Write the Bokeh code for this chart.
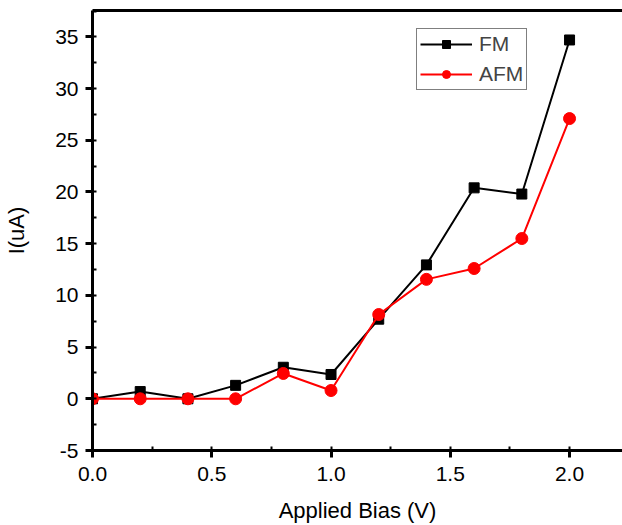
from bokeh.plotting import figure
from bokeh.models import (Range1d, SingleIntervalTicker, NumeralTickFormatter,
                          LinearAxis, Legend, LegendItem, FixedTicker)
from bokeh.embed import file_html
from bokeh.resources import INLINE

bias = [0.0, 0.2, 0.4, 0.6, 0.8, 1.0, 1.2, 1.4, 1.6, 1.8, 2.0]
fm = [0.0, 0.7, 0.0, 1.3, 3.05, 2.35, 7.7, 12.95, 20.4, 19.8, 34.7]
afm = [0.0, 0.0, 0.0, 0.0, 2.45, 0.8, 8.15, 11.55, 12.6, 15.5, 27.1]

FONT = "Liberation Sans"

p = figure(width=622, height=525, output_backend="svg", toolbar_location=None,
           x_range=Range1d(0, 2.222), y_range=Range1d(-5, 37.55),
           min_border_left=92, min_border_right=0, min_border_top=10, min_border_bottom=75)
p.outline_line_color = None
p.grid.visible = False
p.background_fill_color = "white"

for ax in (p.xaxis[0], p.yaxis[0]):
    ax.axis_line_width = 3
    ax.axis_line_color = "black"
    ax.major_tick_line_width = 3
    ax.major_tick_out = 7
    ax.major_tick_in = 0
    ax.minor_tick_line_width = 2
    ax.minor_tick_out = 0
    ax.minor_tick_in = 4
    ax.major_label_text_font = FONT
    ax.major_label_text_font_size = "21px"
    ax.major_label_text_color = "black"
    ax.axis_label_text_font = FONT
    ax.axis_label_text_font_size = "22px"
    ax.axis_label_text_font_style = "normal"
    ax.axis_label_text_color = "black"

p.xaxis[0].ticker = SingleIntervalTicker(interval=0.5, num_minor_ticks=2)
p.xaxis[0].formatter = NumeralTickFormatter(format="0.0")
p.xaxis[0].axis_label = "Applied Bias (V)"
p.xaxis[0].major_label_standoff = 9
p.xaxis[0].axis_label_standoff = 14

p.yaxis[0].ticker = SingleIntervalTicker(interval=5, num_minor_ticks=2)
p.yaxis[0].formatter = NumeralTickFormatter(format="0")
p.yaxis[0].axis_label = "I(uA)"
p.yaxis[0].major_label_standoff = 7
p.yaxis[0].axis_label_standoff = 23

top = LinearAxis(ticker=FixedTicker(ticks=[]), axis_line_width=3,
                 major_tick_in=0, major_tick_out=0, minor_tick_in=0, minor_tick_out=0)
p.add_layout(top, "above")

r1 = p.line(bias, fm, line_color="black", line_width=2)
s1 = p.scatter(bias, fm, marker="square", size=10, fill_color="black", line_color="black")
r2 = p.line(bias, afm, line_color="red", line_width=2)
s2 = p.scatter(bias, afm, marker="circle", size=12, fill_color="red", line_color="red")

legend = Legend(items=[LegendItem(label="FM", renderers=[r1, s1]),
                       LegendItem(label="AFM", renderers=[r2, s2])],
                location=(324, 360))
legend.label_text_font = FONT
legend.label_text_font_size = "21px"
legend.glyph_width = 52
legend.glyph_height = 20
legend.label_height = 20
legend.padding = 3
legend.spacing = 6
legend.margin = 0
legend.label_standoff = 7
legend.border_line_color = "black"
legend.border_line_width = 1
legend.background_fill_alpha = 1
p.add_layout(legend, "center")

open("out.html", "w").write(file_html(p, INLINE))
